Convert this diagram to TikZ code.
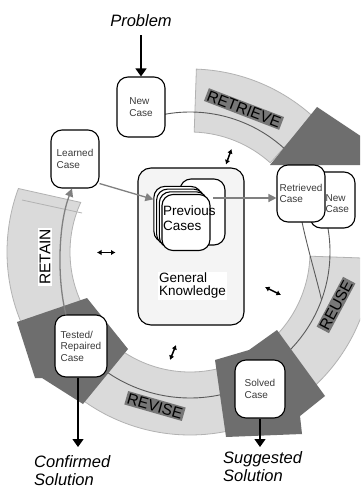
\documentclass[tikz,border=0pt]{standalone}
\usepackage{fontspec}
\setmainfont{Liberation Sans}
\usetikzlibrary{arrows.meta,calc}
\definecolor{bandfill}{HTML}{DADADA}
\definecolor{bandedge}{HTML}{B2B2B2}
\definecolor{darkshape}{HTML}{6E6E6E}
\definecolor{labelbg}{HTML}{777777}
\definecolor{procline}{HTML}{5A5A5A}
\definecolor{grayarrow}{HTML}{808080}
\definecolor{boxtext}{HTML}{3A3A3A}
\definecolor{gkfill}{HTML}{F4F4F4}
\begin{document}
\begin{tikzpicture}[x=1pt,y=-1pt,
  band/.style={fill=bandfill, draw=bandedge, line width=0.8pt},
  shapedark/.style={fill=darkshape, draw=none},
  procarc/.style={draw=procline, line width=0.9pt},
  casebox/.style={draw=black, line width=1.1pt, fill=white, rounded corners=11pt, inner sep=0pt},
  casetext/.style={font=\fontsize{10}{11.5}\selectfont, text=boxtext, align=left, inner sep=0pt},
  phase/.style={font=\fontsize{15.5}{16}\selectfont, fill=labelbg, inner sep=1.5pt, text=black},
  outtext/.style={font=\fontsize{16.5}{18}\selectfont\itshape, align=left, inner sep=0pt},
  blackarrow/.style={draw=black, line width=1.3pt, -{Triangle[length=8pt,width=11pt]}},
  grayarr/.style={draw=grayarrow, line width=1.3pt, -{Triangle[length=8pt,width=8pt]}},
  dblarrow/.style={draw=black, line width=1.5pt, {Latex[length=4.5pt,width=5.5pt]}-{Latex[length=4.5pt,width=5.5pt]}},
]
\useasboundingbox (0,0) rectangle (360,489);
\clip (0,0) rectangle (360,489);
\fill[white] (0,0) rectangle (360,489);

% ring bands
\begin{scope}[shift={(190,252)}]
  \path[band] (-88:183) arc[start angle=-88,end angle=-48,radius=183] -- (-48:120) arc[start angle=-48,end angle=-88,radius=120] -- cycle;
  \path[band] (2:183) arc[start angle=2,end angle=50,radius=183] -- (50:120) arc[start angle=50,end angle=2,radius=120] -- cycle;
  \path[band] (70:183) arc[start angle=70,end angle=130,radius=183] -- (130:120) arc[start angle=130,end angle=70,radius=120] -- cycle;
  \path[band] (-205:183) arc[start angle=-205,end angle=-159.7,radius=183] -- (-155.6:120) arc[start angle=-155.6,end angle=-205,radius=120] -- cycle;
  % process lines inside the bands
  \draw[procarc] (-101:140) arc[start angle=-101,end angle=-45,radius=140];
  \draw[procarc] (-10:140) coordinate (reusetop) arc[start angle=-10,end angle=45,radius=140];
  \draw[procarc] (70:146) arc[start angle=70,end angle=130,radius=146];
  \coordinate (reusejoin) at (20:140);
\end{scope}
\draw[draw=bandedge, line width=0.8pt] (22,200) -- (82,213);

% dark arrow-like shapes
\fill[shapedark] (270,165) -- (317,107) -- (362,137) -- (362,165) -- cycle;
\fill[shapedark] (215,360) -- (249,350) -- (277,330) -- (325,396) -- (300,416) -- (302,434) -- (226,437) -- cycle;
\fill[shapedark] (17,322) -- (87,298) -- (128,349) -- (83,404) -- (42,378) -- (35,378) -- cycle;

% phase labels
\node[phase, rotate=-21] (retrieve) at (244,109) {RETRIEVE};
\node[phase, rotate=62] (reuse) at (336,305) {REUSE};
\node[phase, rotate=-16] (revise) at (155,406) {REVISE};
\node[phase, fill=white, rotate=90] (retain) at (45,257) {RETAIN};

% connector from retrieved case into the reuse arc
\draw[procarc] (302,222) .. controls (308,250) and (317,280) .. (reusejoin);

% general knowledge box
\node[draw=black, fill=gkfill, line width=1.1pt, rounded corners=13pt, minimum width=106pt, minimum height=157pt] (gk) at (191,246.5) {};
\node[fill=white, anchor=north west, inner sep=1pt, align=left, font=\fontsize{13.5}{13}\selectfont] (gktext) at (158,272) {General\\Knowledge};

% previous cases stack
\node[casebox, minimum width=45pt, minimum height=66pt] (prevback) at (202.5,212) {};
\node[casebox, minimum width=48pt, minimum height=56pt] (prev1) at (177.9,214.4) {};
\node[casebox, minimum width=48pt, minimum height=56pt] (prev2) at (180.6,217.1) {};
\node[casebox, minimum width=48pt, minimum height=56pt] (prev3) at (183.3,219.8) {};
\node[casebox, minimum width=48pt, minimum height=56pt] (prev4) at (186,222.5) {};
\node[anchor=north west, inner sep=0pt, align=left, font=\fontsize{13.5}{15}\selectfont] (prevtext) at (163,206) {Previous\\Cases};

% case boxes
\node[casebox, casetext, minimum width=48pt, minimum height=60pt] (newcase) at (141,107) {New\\Case};
\node[casebox, casetext, minimum width=48pt, minimum height=58pt] (learned) at (75,159) {Learned\\Case};
\node[casebox, minimum width=45pt, minimum height=56pt] (newcase2) at (332.5,200) {};
\node[casetext, anchor=west] (newcase2t) at (325.5,203.5) {New\\Case};
\node[casebox, casetext, minimum width=48pt, minimum height=57pt] (retrieved) at (301,193.5) {Retrieved\\Case};
\node[casebox, casetext, minimum width=52pt, minimum height=62pt] (tested) at (81,346) {Tested/\\Repaired\\Case};
\node[casebox, casetext, minimum width=50pt, minimum height=58pt] (solved) at (260,389) {Solved\\Case};

% input / output texts
\node[font=\fontsize{16.5}{19}\selectfont\itshape, anchor=base, inner sep=0pt] (problem) at (141,27) {Problem};
\node[outtext, anchor=north west] (confirmed) at (34,455) {Confirmed\\Solution};
\node[outtext, anchor=north west] (suggested) at (223,451) {Suggested\\Solution};

% arrows
\draw[blackarrow] ([yshift=-8pt]problem.south) -- (newcase.north);
\draw[blackarrow, shorten >=8pt] ([xshift=-3pt]tested.south) -- ([xshift=-3pt]tested.south |- confirmed.north);
\draw[blackarrow, shorten >=4pt] (solved.south) -- (solved.south |- suggested.north);
\draw[grayarr] ([yshift=5pt]learned.south east) -- ([yshift=15pt]prev1.west);
\draw[grayarr] ([xshift=10.5pt,yshift=14pt]prevback.center) -- ([yshift=-4.5pt]retrieved.west);
\draw[grayarr] ([xshift=-15pt]tested.north) .. controls (57,280) and (58,225) .. ([xshift=-3pt]learned.south);

% knowledge exchange double arrows
\coordinate (da1) at (231.5,149); \coordinate (db1) at (226,164.5);
\coordinate (da2) at (97,252.5);  \coordinate (db2) at (115.5,252.5);
\coordinate (da3) at (265,287);   \coordinate (db3) at (281,295);
\coordinate (da4) at (176,345);   \coordinate (db4) at (170,360);
\draw[dblarrow] (da1) -- (db1);
\draw[dblarrow] (da2) -- (db2);
\draw[dblarrow] (da3) -- (db3);
\draw[dblarrow] (da4) -- (db4);
\end{tikzpicture}
\end{document}
